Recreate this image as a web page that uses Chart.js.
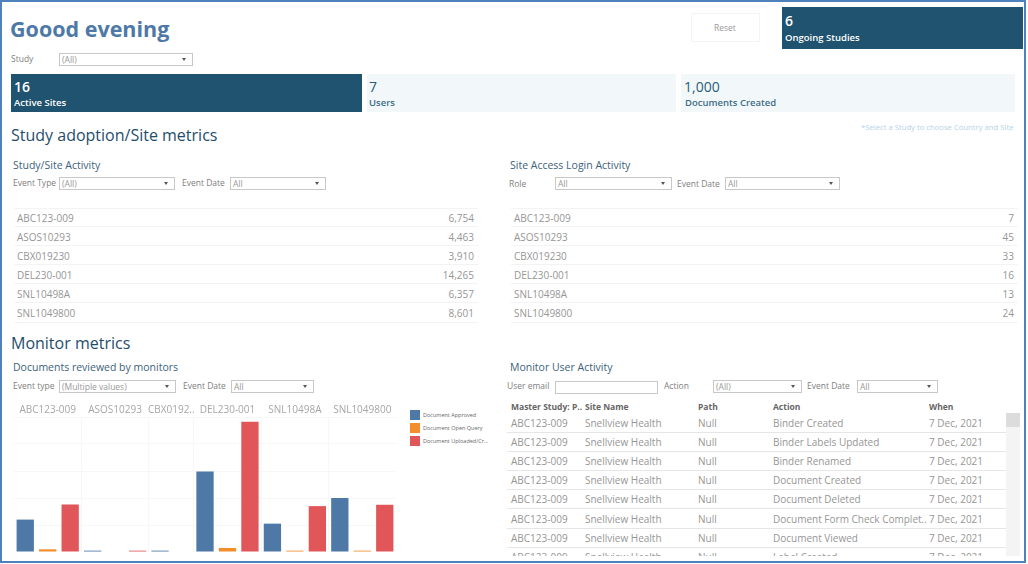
<!DOCTYPE html>
<html>
<head>
<meta charset="utf-8">
<title>Goood evening</title>
<script src="https://cdn.jsdelivr.net/npm/chart.js@4"></script>
<style>
  html, body { margin: 0; padding: 0; background: #fff; }
  body { width: 1028px; height: 564px; overflow: hidden; position: relative; font-family: "Open Sans", sans-serif; color: #888; }
  #frame { position: absolute; left: 0; top: 0; width: 1022px; height: 559px; border: 2px solid #4f81bd; }
  .t { position: absolute; white-space: nowrap; line-height: 1; transform: translateY(-50%); }
  .box { position: absolute; box-sizing: border-box; }
  .sel { position: absolute; box-sizing: border-box; height: 13px; border: 1px solid #c8c8c8; background: #fff; font-size: 8.5px; line-height: 11px; padding-left: 2px; color: #999; }
  .sel:after { content: ""; position: absolute; right: 6px; top: 4px; border: 2.5px solid transparent; border-top: 3px solid #555; }
  .h1 { font-size: 16px; font-weight: 500; color: #1f4e6b; }
  .h2 { font-size: 10.5px; color: #3c627a; }
  .lab { font-size: 8.5px; color: #808080; }
  .row { position: absolute; box-sizing: border-box; height: 19px; border-bottom: 1px solid #f3f3f3; }
  .cell { font-size: 10px; color: #969696; }
  .hd { font-size: 8.5px; font-weight: 700; color: #666; }
  #chartWrap { position: absolute; left: 14px; top: 402px; width: 382px; height: 150px; }
  #legend { position: absolute; left: 410px; top: 410px; }
  #legend div { height: 13px; font-size: 5.5px; line-height: 10px; color: #666; white-space: nowrap; }
  #legend i { display: inline-block; width: 10px; height: 10px; margin-right: 3px; vertical-align: top; }
  #clip { position: absolute; left: 507px; top: 413px; width: 513px; height: 143px; overflow: hidden; }
</style>
</head>
<body>
<div id="frame"></div>
<div id="page"></div>
<div id="chartWrap"><canvas id="docsChart"></canvas></div>
<div id="legend"></div>
<div id="clip"></div>

<script>
// studies shown in the two top tables
const studies = ['ABC123-009', 'ASOS10293', 'CBX019230', 'DEL230-001', 'SNL10498A', 'SNL1049800'];
const siteActivity = ['6,754', '4,463', '3,910', '14,265', '6,357', '8,601'];
const loginActivity = ['7', '45', '33', '16', '13', '24'];

// bar chart: one slot per bar, panels are groups of slots
const panelNames = ['ABC123-009', 'ASOS10293', 'CBX0192..', 'DEL230-001', 'SNL10498A', 'SNL1049800'];
const panelSlots = [3, 3, 2, 3, 3, 3];
const slotLabels = ['a1', 'a2', 'a3', 'b1', 'b2', 'b3', 'c1', 'c2', 'd1', 'd2', 'd3', 'e1', 'e2', 'e3', 'f1', 'f2', 'f3'];
const docApproved = [600, null, null, 25, null, null, 25, null, 1490, null, null, 525, null, null, 1000, null, null];
const docOpenQuery = [null, 50, null, null, null, null, null, null, null, 75, null, null, 25, null, null, 25, null];
const docUploaded = [null, null, 880, null, null, 25, null, null, null, null, 2410, null, null, 850, null, null, 875];
const legendNames = ['Document Approved', 'Document Open Query', 'Document Uploaded/Cr...'];

// monitor user activity table
const activityHeaders = ['Master Study: P..', 'Site Name', 'Path', 'Action', 'When'];
const activityActions = ['Binder Created', 'Binder Labels Updated', 'Binder Renamed', 'Document Created', 'Document Deleted', 'Document Form Check Complet..', 'Document Viewed', 'Label Created'];

const page = document.getElementById('page');

function addText(parent, text, x, y, cls, style) {
  const el = document.createElement('div');
  el.className = 't ' + (cls || '');
  el.textContent = text;
  el.style.left = x + 'px';
  el.style.top = y + 'px';
  if (style) el.style.cssText += style;
  parent.appendChild(el);
  return el;
}

function addBox(x, y, w, h, style) {
  const el = document.createElement('div');
  el.className = 'box';
  el.style.cssText += `left:${x}px;top:${y}px;width:${w}px;height:${h}px;` + (style || '');
  page.appendChild(el);
}

function addSelect(x, y, w, text) {
  const el = document.createElement('div');
  el.className = 'sel';
  el.textContent = text;
  el.style.left = x + 'px';
  el.style.top = y + 'px';
  el.style.width = w + 'px';
  page.appendChild(el);
}

// header
addText(page, 'Goood evening', 10, 29, '', 'font-size:21.5px;font-weight:700;color:#4e79a7;');
addText(page, 'Study', 11, 59, 'lab');
addSelect(59, 53, 134, '(All)');
addBox(691, 13, 69, 29, 'border:1px solid #f4f4f4;');
addText(page, 'Reset', 714, 28, '', 'font-size:8.5px;color:#999;');

// KPI cards
const dark = 'background:#20536f;';
const light = 'background:#f2f8f9;';
addBox(782, 7, 241, 42, dark);
addText(page, '6', 785, 21, '', 'font-size:14px;font-weight:600;color:#fff;');
addText(page, 'Ongoing Studies', 785, 38, '', 'font-size:9.5px;font-weight:600;color:#fff;');
addBox(11, 74, 351, 38, dark);
addText(page, '16', 14, 87, '', 'font-size:14px;font-weight:600;color:#fff;');
addText(page, 'Active Sites', 14, 103, '', 'font-size:9.5px;font-weight:600;color:#fff;');
addBox(367, 74, 309, 38, light);
addText(page, '7', 369, 87, '', 'font-size:14px;color:#2b5c78;');
addText(page, 'Users', 369, 103, '', 'font-size:9.5px;font-weight:600;color:#3f6d87;');
addBox(681, 74, 334, 38, light);
addText(page, '1,000', 684, 87, '', 'font-size:14px;color:#2b5c78;');
addText(page, 'Documents Created', 685, 103, '', 'font-size:9.5px;font-weight:600;color:#3f6d87;');

// study adoption section
addText(page, 'Study adoption/Site metrics', 11, 135, 'h1');
addText(page, '*Select a Study to choose Country and Site', 861, 128, '', 'font-size:7.7px;color:#b5d3ea;');
addText(page, 'Study/Site Activity', 13, 165, 'h2');
addText(page, 'Event Type', 13, 183, 'lab');
addSelect(59, 177, 116, '(All)');
addText(page, 'Event Date', 182, 183, 'lab');
addSelect(230, 177, 96, 'All');
addText(page, 'Site Access Login Activity', 510, 165, 'h2');
addText(page, 'Role', 509, 184, 'lab');
addSelect(555, 177, 117, 'All');
addText(page, 'Event Date', 677, 184, 'lab');
addSelect(725, 177, 115, 'All');

function addStudyTable(x, w, values) {
  addBox(x, 208, w, 1, 'background:#f3f3f3;');
  studies.forEach((name, i) => {
    const y = 208 + i * 19.1;
    const row = document.createElement('div');
    row.className = 'row';
    row.style.cssText += `left:${x}px;top:${y}px;width:${w}px;`;
    page.appendChild(row);
    addText(page, name, x + 3, y + 9.5, 'cell');
    const v = addText(page, values[i], 0, y + 9.5, 'cell');
    v.style.left = 'auto';
    v.style.right = (1028 - (x + w - 4)) + 'px';
  });
}
addStudyTable(14, 464, siteActivity);
addStudyTable(511, 507, loginActivity);

// monitor section
addText(page, 'Monitor metrics', 11, 343, 'h1');
addText(page, 'Documents reviewed by monitors', 13, 367, 'h2');
addText(page, 'Event type', 13, 386, 'lab');
addSelect(59, 380, 117, '(Multiple values)');
addText(page, 'Event Date', 183, 386, 'lab');
addSelect(231, 380, 83, 'All');
addText(page, 'Monitor User Activity', 510, 367, 'h2');
addText(page, 'User email', 507, 386, 'lab');
addBox(555, 381, 103, 13, 'border:1px solid #c8c8c8;');
addText(page, 'Action', 664, 386, 'lab');
addSelect(713, 380, 89, '(All)');
addText(page, 'Event Date', 807, 386, 'lab');
addSelect(857, 380, 81, 'All');

// activity table
const colX = [511, 585, 698, 773, 929];
activityHeaders.forEach((h, i) => addText(page, h, colX[i], 407, 'hd'));
addBox(1006, 413, 14, 143, 'background:#f4f4f4;');
addBox(1006, 413, 14, 14, 'background:#dcdcdc;');
const clip = document.getElementById('clip');
activityActions.forEach((action, i) => {
  const y = 10 + i * 19.1;
  const cells = ['ABC123-009', 'Snellview Health', 'Null', action, '7 Dec, 2021'];
  cells.forEach((c, j) => addText(clip, c, colX[j] - 507, y, 'cell'));
  const line = document.createElement('div');
  line.style.cssText = `position:absolute;left:0;width:499px;height:1px;background:#e6e6e6;top:${y + 9}px;`;
  clip.appendChild(line);
});

// panel names on top of the chart, centred over each panel's slots
const panelHeaders = {
  id: 'panelHeaders',
  afterDraw(chart) {
    const { ctx, scales: { x } } = chart;
    ctx.save();
    ctx.font = '10px "Open Sans"';
    ctx.fillStyle = '#a6a6a6';
    ctx.textAlign = 'center';
    ctx.textBaseline = 'middle';
    let start = 0;
    panelNames.forEach((name, i) => {
      const end = start + panelSlots[i] - 1;
      const mid = (x.getPixelForValue(start) + x.getPixelForValue(end)) / 2;
      ctx.fillText(name, mid, 8);
      start = end + 1;
    });
    ctx.restore();
  }
};

// slot index where a new panel begins gets a divider
const panelStarts = [];
panelSlots.reduce((sum, n) => { panelStarts.push(sum); return sum + n; }, 0);

const docsChart = new Chart(document.getElementById('docsChart'), {
  type: 'bar',
  data: {
    labels: slotLabels,
    datasets: [
      { label: legendNames[0], data: docApproved, backgroundColor: '#4e79a7' },
      { label: legendNames[1], data: docOpenQuery, backgroundColor: '#f28e2b' },
      { label: legendNames[2], data: docUploaded, backgroundColor: '#e15759' }
    ]
  },
  options: {
    responsive: true,
    maintainAspectRatio: false,
    animation: false,
    layout: { padding: { top: 15, left: 0, right: 0, bottom: 0 } },
    datasets: { bar: { categoryPercentage: 1, barPercentage: 0.77 } },
    plugins: { legend: { display: false }, tooltip: { enabled: false } },
    scales: {
      x: {
        stacked: true,
        ticks: { display: false },
        border: { display: false },
        grid: {
          drawTicks: false,
          offset: true,
          color: ctx => panelStarts.includes(ctx.index) ? '#f7f7f7' : 'rgba(0,0,0,0)'
        }
      },
      y: {
        stacked: true,
        min: 0,
        max: 2500,
        ticks: { display: false, stepSize: 500 },
        border: { display: false },
        grid: { drawTicks: false, color: '#f7f7f7' }
      }
    }
  },
  plugins: [panelHeaders]
});

// legend list built from the chart's datasets
const legend = document.getElementById('legend');
docsChart.data.datasets.forEach(ds => {
  const item = document.createElement('div');
  item.innerHTML = `<i style="background:${ds.backgroundColor}"></i>${ds.label}`;
  legend.appendChild(item);
});
</script>
</body>
</html>
